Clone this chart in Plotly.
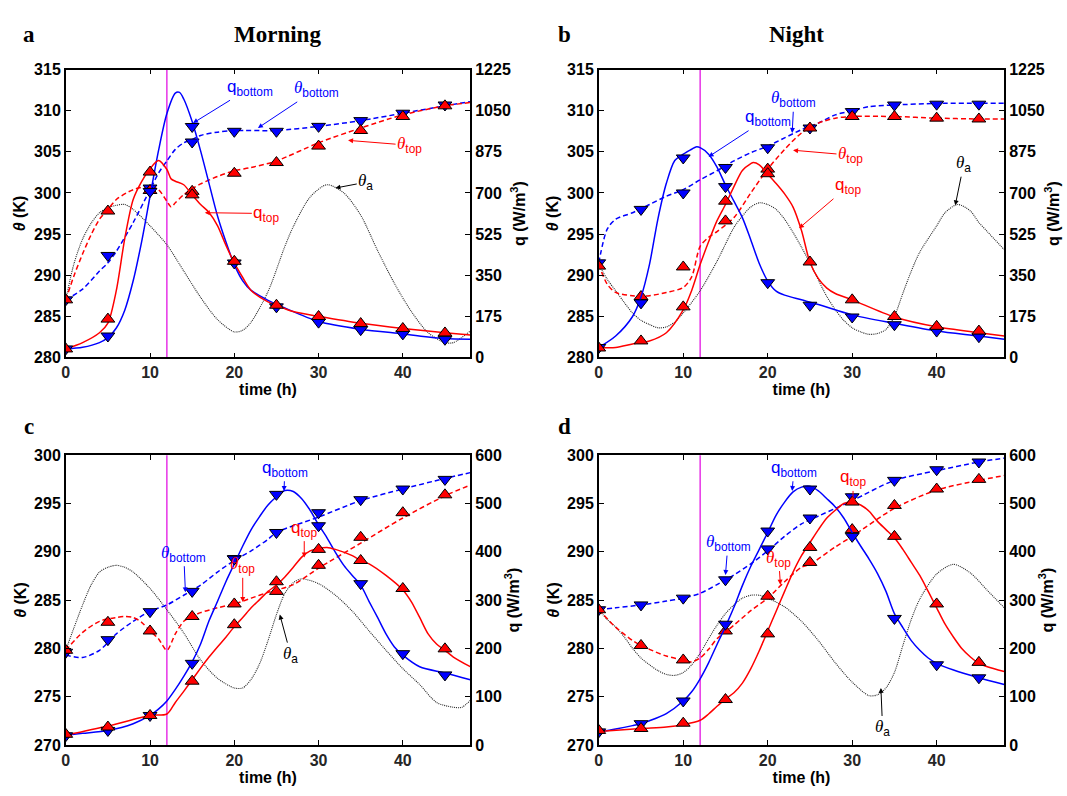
import plotly.graph_objects as go

# ---------------- data ----------------
T_MARK = [0, 5, 10, 15, 20, 25, 30, 35, 40, 45]
SWITCH_TIME = 12

# Panel a (Morning, top)
a_thb_m = [287.0, 292.4, 300.6, 306.2, 307.5, 307.5, 308.1, 308.8, 309.7, 310.7]
a_tht_m = [287.0, 297.8, 300.3, 300.2, 302.4, 303.7, 305.7, 307.6, 309.3, 310.6]
a_qb_m = [36, 91, 706, 983, 402, 215, 150, 118, 100, 77]
a_qt_m = [36, 163, 789, 692, 409, 222, 174, 144, 123, 104]
a_thb_t = [0, 2, 4, 5, 6, 8, 10, 11, 12, 13, 14, 15, 16, 18, 20, 25, 30, 35, 40, 45, 48]
a_thb_v = [287.0, 288.3, 290.5, 291.5, 292.9, 296.4, 300.4, 302.4, 303.9, 305.3, 306.1, 306.5, 307.0, 307.4, 307.6, 307.6, 308.1, 308.8, 309.7, 310.6, 311.1]
a_tht_t = [0, 1, 2, 3, 4, 5, 6, 8, 10, 11, 12, 12.5, 13, 14, 15, 16, 18, 20, 22, 25, 30, 35, 40, 45, 48]
a_tht_v = [287.0, 290.0, 292.6, 294.9, 296.8, 298.0, 299.2, 300.4, 300.8, 300.4, 299.0, 298.3, 298.8, 299.8, 300.5, 301.1, 302.0, 302.7, 303.1, 303.9, 306.1, 307.9, 309.5, 310.6, 311.0]
a_qb_t = [0, 2, 4, 5, 6, 7, 8, 9, 10, 11, 12, 13, 13.5, 14, 15, 16, 17, 18, 19, 20, 21, 22, 24, 26, 30, 35, 40, 45, 48]
a_qb_v = [36, 43, 63, 84, 125, 201, 326, 492, 686, 879, 1038, 1125, 1128, 1100, 1004, 879, 741, 603, 492, 395, 326, 285, 243, 210, 153, 120, 100, 80, 77]
a_qt_t = [0, 2, 4, 5, 6, 7, 8, 9, 10, 11, 12, 12.5, 13, 14, 15, 16, 17, 18, 19, 20, 21, 22, 24, 25, 27, 30, 35, 40, 45, 48]
a_qt_v = [36, 63, 105, 146, 285, 506, 672, 748, 803, 838, 800, 760, 750, 735, 692, 651, 617, 561, 478, 402, 340, 285, 236, 222, 195, 175, 145, 123, 105, 95]
a_tha_t = [0, 1, 2, 3, 4, 5, 6, 7, 8, 10, 12, 14, 16, 18, 20, 21, 22, 24, 26, 27, 29, 31, 33, 35, 37, 39, 41, 43, 45, 46, 48]
a_tha_v = [287.0, 291.5, 294.4, 296.3, 297.6, 298.2, 298.5, 298.6, 298.0, 296.0, 293.7, 290.5, 287.3, 284.6, 283.1, 283.3, 284.3, 288.0, 293.5, 295.9, 299.5, 301.0, 300.0, 297.3, 293.0, 289.0, 285.6, 283.0, 281.8, 281.8, 283.2]

# Panel b (Night, top)
b_thb_m = [291.5, 298.0, 300.0, 303.1, 305.5, 307.9, 309.9, 310.7, 310.8, 310.8]
b_tht_m = [291.1, 287.4, 291.0, 296.6, 302.9, 307.9, 309.3, 309.3, 309.1, 309.0]
b_qb_m = [42, 232, 849, 727, 318, 222, 172, 139, 112, 88]
b_qt_m = [40, 70, 215, 665, 782, 406, 245, 174, 132, 112]
b_thb_t = [0, 1, 2, 4, 6, 8, 10, 12, 14, 16, 18, 20, 22, 24, 26, 28, 30, 32, 35, 40, 45, 48]
b_thb_v = [291.5, 295.6, 296.8, 297.6, 298.6, 299.6, 300.4, 301.6, 302.7, 303.9, 304.9, 305.7, 306.7, 307.7, 308.5, 309.5, 310.0, 310.5, 310.7, 310.9, 310.9, 310.9]
b_tht_t = [0, 1, 2, 4, 6, 8, 10, 11, 12, 13, 14, 16, 18, 20, 22, 24, 26, 28, 30, 35, 40, 45, 48]
b_tht_v = [291.3, 288.9, 287.9, 287.5, 287.5, 287.9, 288.5, 289.8, 293.5, 294.6, 295.3, 297.0, 300.0, 302.9, 305.3, 307.3, 308.5, 309.1, 309.3, 309.3, 309.1, 309.0, 309.0]
b_qb_t = [0, 2, 4, 5, 6, 7, 8, 9, 10, 11, 11.5, 12, 13, 14, 15, 16, 17, 18, 19, 20, 21, 22, 24, 26, 30, 35, 40, 45, 48]
b_qb_v = [42, 91, 174, 257, 395, 589, 741, 838, 865, 886, 896, 893, 865, 810, 734, 665, 595, 500, 400, 325, 282, 265, 245, 225, 181, 145, 112, 91, 77]
b_qt_t = [0, 2, 4, 6, 8, 10, 11, 12, 13, 14, 15, 16, 17, 18, 18.3, 19, 20, 21, 22, 23, 24, 25, 26, 27, 28, 30, 35, 40, 45, 48]
b_qt_v = [42, 42, 57, 70, 105, 202, 285, 395, 492, 582, 651, 727, 796, 825, 830, 820, 780, 740, 696, 640, 540, 405, 335, 295, 272, 245, 172, 130, 105, 91]
b_tha_t = [0, 1, 2, 3, 4, 5, 6, 7, 8, 9, 10, 12, 14, 16, 17, 18, 19, 20, 21, 22, 23, 24, 25, 26, 27, 28, 29, 30, 31, 32, 33, 34, 35, 36, 37, 38, 40, 41, 42.5, 44, 45, 46, 48]
b_tha_v = [291.3, 289.5, 288.1, 286.7, 285.4, 284.5, 284.0, 283.6, 283.7, 284.3, 285.4, 288.1, 291.7, 295.8, 297.2, 298.3, 298.8, 298.6, 298.0, 296.8, 295.2, 293.4, 291.5, 289.4, 287.4, 285.8, 284.5, 283.6, 283.1, 282.8, 282.9, 283.4, 285.0, 287.8, 290.5, 292.8, 296.0, 297.6, 298.6, 297.8, 296.4, 295.3, 293.1]

# Panel c (Morning, bottom)
c_thb_m = [279.6, 280.9, 283.8, 285.9, 289.3, 292.0, 294.05, 295.4, 296.5, 297.5]
c_tht_m = [279.8, 282.7, 281.8, 283.3, 284.6, 285.9, 288.6, 291.5, 294.05, 295.9]
c_qb_m = [19, 30, 61, 169, 385, 519, 454, 334, 189, 145]
c_qt_m = [22, 37, 61, 132, 249, 338, 405, 382, 324, 199]
c_thb_t = [0, 2, 4, 6, 8, 10, 12, 14, 16, 18, 20, 22, 24, 25, 30, 35, 40, 45, 48]
c_thb_v = [279.3, 279.05, 279.8, 281.5, 282.8, 283.85, 284.5, 285.5, 286.55, 287.9, 289.1, 290.1, 291.3, 292.0, 293.6, 295.3, 296.5, 297.6, 298.2]
c_tht_t = [0, 2, 4, 6, 7, 8, 9, 10, 11, 12, 13, 14, 15, 16, 18, 20, 22, 24, 27, 30, 35, 40, 45, 48]
c_tht_v = [279.8, 281.65, 282.8, 283.2, 283.3, 283.2, 282.7, 281.8, 281.0, 279.8, 281.5, 282.8, 283.3, 283.7, 284.2, 284.6, 285.2, 285.8, 286.6, 288.3, 290.9, 293.5, 295.8, 296.9]
c_qb_t = [0, 2, 5, 8, 10, 11, 12, 13, 14, 15, 16, 17, 18, 19, 20, 21, 22, 23, 24, 25, 26, 27, 28, 29, 30, 31, 32, 33, 34, 35, 36, 37, 38, 39, 40, 42, 45, 48]
c_qb_v = [20, 24, 30, 44, 61, 74, 91, 115, 142, 172, 209, 257, 297, 338, 375, 412, 446, 473, 497, 514, 527, 525, 510, 486, 456, 429, 399, 372, 351, 331, 297, 264, 230, 203, 186, 162, 149, 135]
c_qt_t = [0, 5, 10, 12, 13, 14, 15, 16, 17, 18, 19, 20, 21, 22, 23, 24, 25, 26, 27, 28, 29, 30, 31, 32, 34, 35, 36, 38, 40, 41, 42, 43, 44, 45, 46, 48]
c_qt_v = [20, 39, 61, 64, 88, 111, 135, 159, 182, 203, 223, 245, 264, 284, 301, 318, 331, 348, 368, 389, 402, 407, 409, 405, 392, 382, 375, 351, 321, 297, 264, 230, 209, 196, 182, 162]
c_tha_t = [0, 1, 2, 3, 4, 5, 6, 7, 8, 10, 12, 14, 16, 18, 20, 21, 22, 23, 24, 25, 26, 27, 28, 30, 32, 34, 36, 38, 40, 42, 44, 46, 47, 48]
c_tha_v = [279.8, 282.2, 284.5, 286.55, 287.9, 288.4, 288.6, 288.4, 287.9, 286.2, 284.0, 281.6, 278.8, 276.9, 275.9, 275.9, 276.8, 278.4, 280.8, 283.5, 285.7, 286.8, 287.2, 286.7, 285.5, 283.85, 281.8, 279.8, 277.9, 276.25, 274.4, 273.9, 273.9, 274.6]

# Panel d (Night, bottom)
d_thb_m = [284.0, 284.5, 285.2, 287.1, 290.3, 293.5, 295.7, 297.4, 298.5, 299.3]
d_tht_m = [284.0, 280.3, 278.8, 281.8, 285.4, 288.9, 292.3, 294.8, 296.5, 297.5]
d_qb_m = [27, 44, 91, 250, 443, 530, 432, 262, 166, 139]
d_qt_m = [30, 34, 45, 94, 230, 409, 503, 432, 292, 171]
d_thb_t = [0, 2, 5, 8, 10, 12, 14, 16, 18, 20, 22, 24, 25, 30, 35, 40, 45, 48]
d_thb_v = [284.0, 284.2, 284.5, 284.9, 285.2, 285.7, 286.6, 287.6, 288.75, 290.1, 291.6, 292.9, 293.3, 295.3, 297.4, 298.4, 299.3, 299.7]
d_tht_t = [0, 2, 4, 5, 6, 8, 10, 11, 12, 13, 14, 15, 16, 18, 20, 22, 24, 25, 28, 30, 35, 40, 45, 48]
d_tht_v = [284.0, 282.2, 280.8, 280.3, 279.9, 279.2, 278.8, 278.6, 279.0, 279.9, 281.0, 281.7, 282.4, 283.9, 285.2, 286.9, 288.4, 288.7, 290.5, 291.6, 294.5, 296.4, 297.4, 297.9]
d_qb_t = [0, 2, 4, 5, 6, 8, 10, 11, 12, 13, 14, 15, 16, 17, 18, 19, 20, 21, 22, 23, 24, 25, 26, 27, 28, 29, 30, 31, 32, 33, 34, 35, 36, 37, 38, 39, 40, 42, 45, 48]
d_qb_v = [27, 33, 40, 44, 50, 65, 91, 110, 137, 170, 208, 245, 285, 330, 370, 405, 440, 476, 503, 524, 534, 536, 526, 510, 493, 470, 440, 412, 385, 355, 318, 272, 243, 216, 196, 180, 169, 155, 139, 125]
d_qt_t = [0, 5, 8, 10, 12, 13, 14, 15, 16, 17, 18, 19, 20, 21, 22, 23, 24, 25, 26, 27, 28, 29, 30, 31, 32, 33, 34, 35, 36, 37, 38, 39, 40, 41, 42, 43, 44, 45, 46, 48]
d_qt_v = [28, 34, 37, 42, 51, 64, 80, 95, 108, 128, 158, 195, 236, 277, 318, 358, 392, 419, 446, 470, 486, 500, 503, 497, 484, 463, 446, 429, 405, 378, 351, 318, 284, 250, 223, 199, 182, 169, 162, 152]
d_tha_t = [0, 1, 2, 3, 4, 5, 6, 7, 8, 9, 10, 11, 12, 13, 14, 15, 16, 17, 18, 19, 20, 22, 24, 26, 28, 30, 32, 33, 34, 35, 36, 37, 38, 40, 42, 44, 46, 48]
d_tha_v = [284.0, 283.0, 282.2, 281.2, 280.0, 279.0, 278.3, 277.7, 277.3, 277.2, 277.5, 278.3, 279.5, 281.0, 282.4, 283.6, 284.5, 285.2, 285.5, 285.5, 285.2, 284.3, 282.8, 280.8, 278.5, 276.5, 275.1, 275.2, 275.9, 277.5, 280.3, 283.0, 285.1, 287.7, 288.7, 287.8, 286.0, 284.2]

# axis ticks
TOP_TH_TICKS = [280, 285, 290, 295, 300, 305, 310, 315]
TOP_Q_TICKS = [0, 175, 350, 525, 700, 875, 1050, 1225]
BOT_TH_TICKS = [270, 275, 280, 285, 290, 295, 300]
BOT_Q_TICKS = [0, 100, 200, 300, 400, 500, 600]
X_TICKS = [0, 10, 20, 30, 40]

BLUE = "#0000FF"
RED = "#FF0000"
BLACK = "#000000"
TH = "<span style='font-family:Liberation Serif'><i>θ</i></span>"

# annotation labels: text, text x, text y (theta axis), color, arrow head x, arrow head y
ann_a = [
    ("q<sub>bottom</sub>", 21.9, 312.8, BLUE, 15.1, 308.5),
    (TH + "<sub>bottom</sub>", 29.7, 312.6, BLUE, 22.8, 307.9),
    (TH + "<sub>top</sub>", 40.8, 305.8, RED, 33.5, 306.4),
    (TH + "<sub>a</sub>", 35.6, 301.3, BLACK, 32.0, 300.6),
    ("q<sub>top</sub>", 23.8, 297.5, RED, 16.5, 297.6),
]
ann_b = [
    (TH + "<sub>bottom</sub>", 23.1, 311.4, BLUE, 22.9, 307.3),
    ("q<sub>bottom</sub>", 20.0, 309.1, BLUE, 13.0, 304.4),
    (TH + "<sub>top</sub>", 29.8, 304.6, RED, 23.0, 305.2),
    ("q<sub>top</sub>", 29.5, 300.8, RED, 23.7, 295.7),
    (TH + "<sub>a</sub>", 43.2, 303.5, BLACK, 42.2, 298.5),
]
ann_c = [
    ("q<sub>bottom</sub>", 26.0, 298.6, BLUE, 25.9, 296.3),
    (TH + "<sub>bottom</sub>", 14.0, 289.8, BLUE, 14.2, 285.8),
    (TH + "<sub>top</sub>", 21.0, 288.6, RED, 21.0, 284.8),
    ("q<sub>top</sub>", 28.3, 292.4, RED, 28.3, 289.4),
    (TH + "<sub>a</sub>", 26.7, 279.3, BLACK, 25.4, 283.5),
]
ann_d = [
    ("q<sub>bottom</sub>", 23.1, 298.6, BLUE, 22.9, 296.3),
    (TH + "<sub>bottom</sub>", 15.3, 290.9, BLUE, 15.0, 287.6),
    (TH + "<sub>top</sub>", 21.3, 289.3, RED, 21.5, 286.6),
    ("q<sub>top</sub>", 30.1, 297.6, RED, 30.1, 295.0),
    (TH + "<sub>a</sub>", 33.6, 271.7, BLACK, 33.4, 275.9),
]

panels = [
    dict(x="x", y="y", yq="y2", xd=[62, 468], yd=[63, 357],
         thb=(a_thb_t, a_thb_v), tht=(a_tht_t, a_tht_v), qb=(a_qb_t, a_qb_v), qt=(a_qt_t, a_qt_v), tha=(a_tha_t, a_tha_v),
         m=(a_thb_m, a_tht_m, a_qb_m, a_qt_m), thr=[280, 315], tht_ticks=TOP_TH_TICKS, qr=[0, 1225], q_ticks=TOP_Q_TICKS, ann=ann_a),
    dict(x="x2", y="y3", yq="y4", xd=[597, 1004], yd=[63, 357],
         thb=(b_thb_t, b_thb_v), tht=(b_tht_t, b_tht_v), qb=(b_qb_t, b_qb_v), qt=(b_qt_t, b_qt_v), tha=(b_tha_t, b_tha_v),
         m=(b_thb_m, b_tht_m, b_qb_m, b_qt_m), thr=[280, 315], tht_ticks=TOP_TH_TICKS, qr=[0, 1225], q_ticks=TOP_Q_TICKS, ann=ann_b),
    dict(x="x3", y="y5", yq="y6", xd=[62, 468], yd=[457, 753],
         thb=(c_thb_t, c_thb_v), tht=(c_tht_t, c_tht_v), qb=(c_qb_t, c_qb_v), qt=(c_qt_t, c_qt_v), tha=(c_tha_t, c_tha_v),
         m=(c_thb_m, c_tht_m, c_qb_m, c_qt_m), thr=[270, 300], tht_ticks=BOT_TH_TICKS, qr=[0, 600], q_ticks=BOT_Q_TICKS, ann=ann_c),
    dict(x="x4", y="y7", yq="y8", xd=[597, 1004], yd=[457, 753],
         thb=(d_thb_t, d_thb_v), tht=(d_tht_t, d_tht_v), qb=(d_qb_t, d_qb_v), qt=(d_qt_t, d_qt_v), tha=(d_tha_t, d_tha_v),
         m=(d_thb_m, d_tht_m, d_qb_m, d_qt_m), thr=[270, 300], tht_ticks=BOT_TH_TICKS, qr=[0, 600], q_ticks=BOT_Q_TICKS, ann=ann_d),
]

W, H = 1067, 796
fig = go.Figure()
TICKFONT = dict(family="Liberation Sans", size=16, color="#000000", weight="bold")
XTICKFONT = dict(family="Liberation Sans", size=16, color="#262626", weight="bold")
TITLEFONT = dict(family="Liberation Sans", size=16, color="#000000", weight="bold")

layout = dict(width=W, height=H, margin=dict(l=0, r=0, t=0, b=0),
              paper_bgcolor="white", plot_bgcolor="white", showlegend=False)
annotations = []
shapes = []


def axname(ref):
    return ref.replace("x", "xaxis").replace("y", "yaxis")


for p in panels:
    xr, yr, qr_ = p["x"], p["y"], p["yq"]
    spl = dict(shape="spline", smoothing=0.8)
    # theta lines
    fig.add_trace(go.Scatter(x=p["tha"][0], y=p["tha"][1], mode="lines", xaxis=xr, yaxis=yr,
                             line=dict(color="#262626", width=1.1, dash="1px,1px", **spl)))
    fig.add_trace(go.Scatter(x=p["thb"][0], y=p["thb"][1], mode="lines", xaxis=xr, yaxis=yr,
                             line=dict(color=BLUE, width=1.5, dash="5px,3px", **spl)))
    fig.add_trace(go.Scatter(x=p["tht"][0], y=p["tht"][1], mode="lines", xaxis=xr, yaxis=yr,
                             line=dict(color=RED, width=1.5, dash="5px,3px", **spl)))
    fig.add_trace(go.Scatter(x=T_MARK, y=p["m"][0], mode="markers", xaxis=xr, yaxis=yr,
                             marker=dict(symbol="triangle-down", size=12, color=BLUE, line=dict(color="black", width=1))))
    fig.add_trace(go.Scatter(x=T_MARK, y=p["m"][1], mode="markers", xaxis=xr, yaxis=yr,
                             marker=dict(symbol="triangle-up", size=12, color=RED, line=dict(color="black", width=1))))
    # q lines
    fig.add_trace(go.Scatter(x=p["qb"][0], y=p["qb"][1], mode="lines", xaxis=xr, yaxis=qr_,
                             line=dict(color=BLUE, width=1.5, **spl)))
    fig.add_trace(go.Scatter(x=p["qt"][0], y=p["qt"][1], mode="lines", xaxis=xr, yaxis=qr_,
                             line=dict(color=RED, width=1.5, **spl)))
    fig.add_trace(go.Scatter(x=T_MARK, y=p["m"][2], mode="markers", xaxis=xr, yaxis=qr_,
                             marker=dict(symbol="triangle-down", size=12, color=BLUE, line=dict(color="black", width=1))))
    fig.add_trace(go.Scatter(x=T_MARK, y=p["m"][3], mode="markers", xaxis=xr, yaxis=qr_,
                             marker=dict(symbol="triangle-up", size=12, color=RED, line=dict(color="black", width=1))))

    xdom = [p["xd"][0] / W, p["xd"][1] / W]
    ydom = [1 - p["yd"][1] / H, 1 - p["yd"][0] / H]
    layout[axname(xr)] = dict(domain=xdom, anchor=yr, range=[0, 48], tickvals=X_TICKS,
                              ticks="inside", ticklen=5, tickcolor="black", showline=True, linecolor="black",
                              linewidth=1.5, mirror="ticks", showgrid=False, zeroline=False, tickfont=XTICKFONT,
                              title=dict(text="time (h)", font=TITLEFONT, standoff=3))
    layout[axname(yr)] = dict(domain=ydom, anchor=xr, range=p["thr"], tickvals=p["tht_ticks"],
                              ticks="inside", ticklen=5, tickcolor="black", showline=True, linecolor="black",
                              linewidth=1.5, showgrid=False, zeroline=False, tickfont=TICKFONT,
                              title=dict(text="<i>θ</i> (K)", font=TITLEFONT, standoff=4))
    layout[axname(qr_)] = dict(overlaying=yr, anchor=xr, side="right", range=p["qr"], tickvals=p["q_ticks"],
                               ticks="inside", ticklen=5, tickcolor="black", showline=True, linecolor="black",
                               linewidth=1.5, showgrid=False, zeroline=False, tickfont=TICKFONT,
                               title=dict(text="q (W/m<sup>3</sup>)", font=TITLEFONT, standoff=4))
    shapes.append(dict(type="line", xref=xr, yref=yr + " domain", x0=SWITCH_TIME, x1=SWITCH_TIME, y0=0, y1=1,
                       line=dict(color="#E000E0", width=1.2), layer="below"))
    for (txt, tx, ty, col, hx, hy) in p["ann"]:
        annotations.append(dict(xref=xr, yref=yr, x=hx, y=hy, axref=xr, ayref=yr, ax=tx, ay=ty,
                                text=txt, showarrow=True, arrowcolor=col, arrowwidth=1,
                                arrowhead=2, arrowsize=1, standoff=0, borderpad=1,
                                font=dict(family="Liberation Sans", size=17, color=col)))

# panel letters and titles
SERIF = dict(family="Liberation Serif", size=23, color="black", weight="bold")
for txt, px, py in [("a", 25, 27), ("Morning", 275, 27), ("b", 563, 27), ("Night", 795, 27),
                    ("c", 25, 428), ("d", 563, 428)]:
    annotations.append(dict(xref="paper", yref="paper", x=px / W, y=1 - py / H, text=txt, showarrow=False,
                            xanchor="center", yanchor="middle", font=SERIF))

layout["annotations"] = annotations
layout["shapes"] = shapes
fig.update_layout(**layout)
fig.write_html("out.html")
